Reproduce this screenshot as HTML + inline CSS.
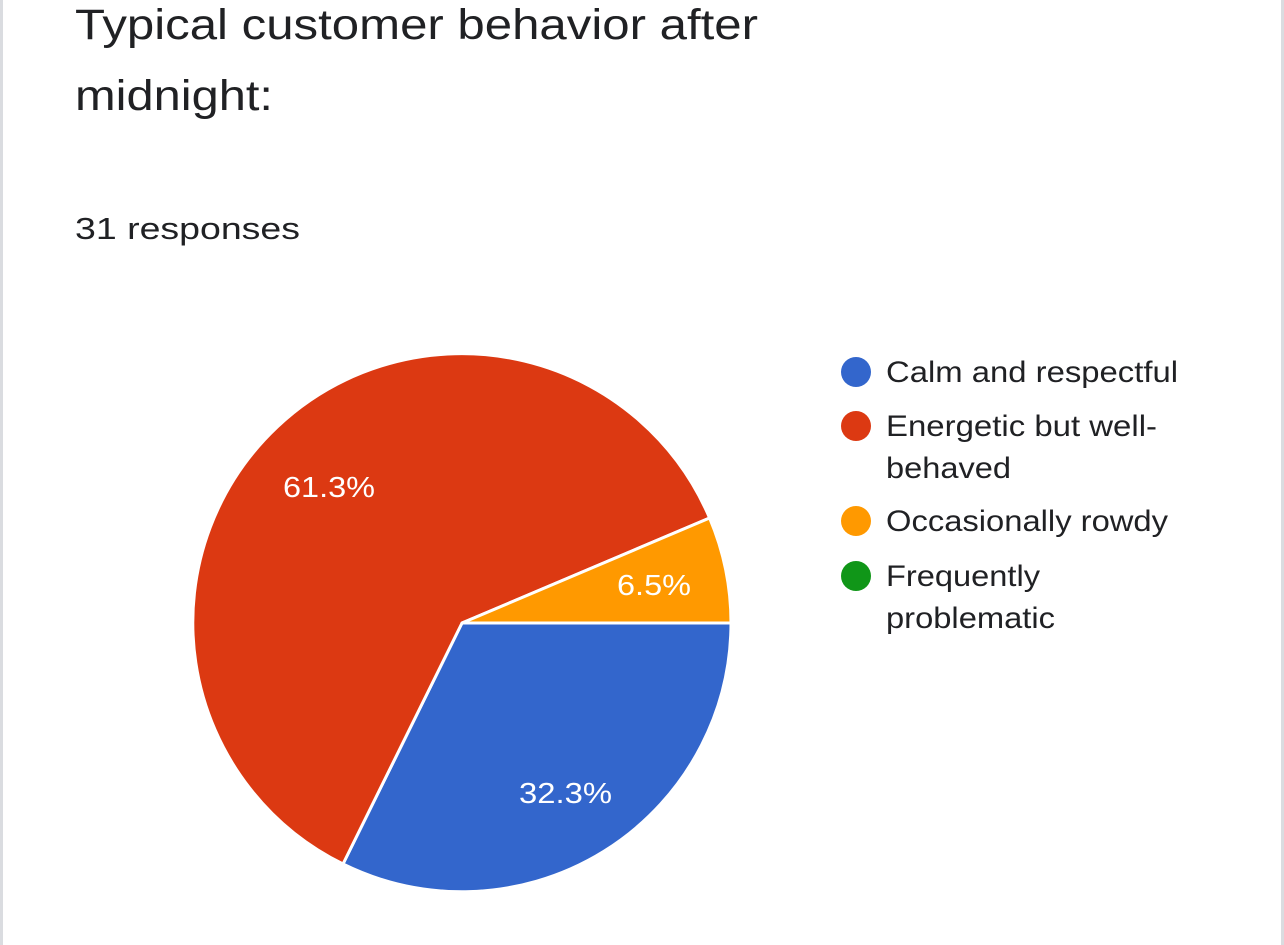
<!DOCTYPE html>
<html><head><meta charset="utf-8"><style>
html,body{margin:0;padding:0;background:#fff;}
body{width:1284px;height:945px;position:relative;overflow:hidden;font-family:"Liberation Sans",Arial,sans-serif;}
.bl{position:absolute;left:0;top:0;width:3px;height:945px;background:#dadce0;}
.br{position:absolute;right:0;top:0;width:3px;height:945px;background:#dadce0;}
</style></head><body>
<div class="bl"></div><div class="br"></div>
<svg width="1284" height="945" style="position:absolute;left:0;top:0" font-family="Liberation Sans, Arial, sans-serif">
<text x="75" y="39" font-size="43" fill="#202124" textLength="683" lengthAdjust="spacingAndGlyphs">Typical customer behavior after</text>
<text x="75" y="110" font-size="43" fill="#202124" textLength="198" lengthAdjust="spacingAndGlyphs">midnight:</text>
<text x="75" y="239" font-size="31" fill="#202124" textLength="225" lengthAdjust="spacingAndGlyphs">31 responses</text>
<g stroke="#fff" stroke-width="3" stroke-linejoin="round">
<path d="M462,623 L731,623 A269,269 0 0 1 343,864 Z" fill="#3366cc"/>
<path d="M462,623 L343,864 A269,269 0 1 1 709.6,518 Z" fill="#dc3912"/>
<path d="M462,623 L709.6,518 A269,269 0 0 1 731,623 Z" fill="#ff9900"/>
</g>
<g fill="#fff" font-size="29" lengthAdjust="spacingAndGlyphs">
<text x="283" y="497" textLength="92" lengthAdjust="spacingAndGlyphs">61.3%</text>
<text x="617" y="595" textLength="74" lengthAdjust="spacingAndGlyphs">6.5%</text>
<text x="519" y="803" textLength="93" lengthAdjust="spacingAndGlyphs">32.3%</text>
</g>
<g font-size="30" fill="#202124">
<circle cx="856" cy="372" r="15" fill="#3366cc"/>
<text x="886" y="382" textLength="292" lengthAdjust="spacingAndGlyphs">Calm and respectful</text>
<circle cx="856" cy="426" r="15" fill="#dc3912"/>
<text x="886" y="436" textLength="271" lengthAdjust="spacingAndGlyphs">Energetic but well-</text>
<text x="886" y="478" textLength="125" lengthAdjust="spacingAndGlyphs">behaved</text>
<circle cx="856" cy="521" r="15" fill="#ff9900"/>
<text x="886" y="531" textLength="282" lengthAdjust="spacingAndGlyphs">Occasionally rowdy</text>
<circle cx="856" cy="576" r="15" fill="#109618"/>
<text x="886" y="586" textLength="154" lengthAdjust="spacingAndGlyphs">Frequently</text>
<text x="886" y="628" textLength="169" lengthAdjust="spacingAndGlyphs">problematic</text>
</g>
</svg>
</body></html>
